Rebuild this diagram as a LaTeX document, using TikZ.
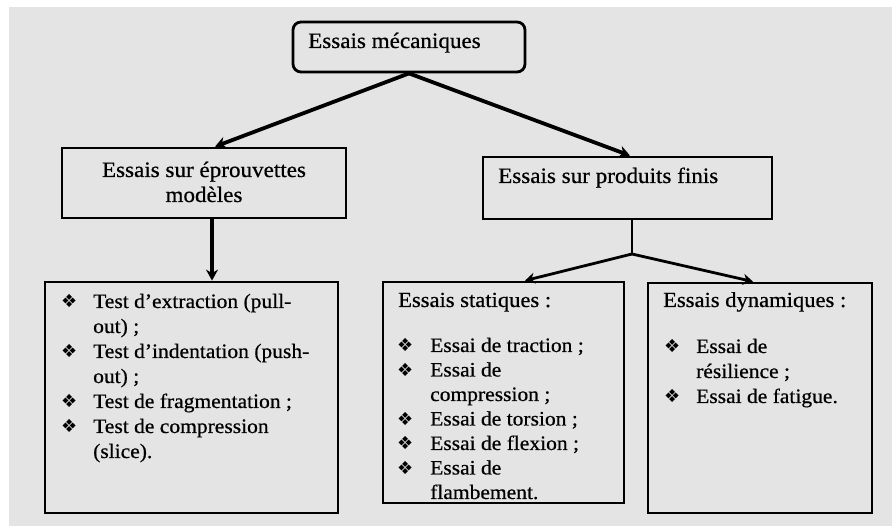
\documentclass[tikz,border=0pt]{standalone}
\usepackage{fontspec}
\setmainfont{Liberation Serif}[FakeStretch=1.05,FakeBold=0.6]
\newfontfamily\dingfont{DejaVu Sans}
\usetikzlibrary{arrows.meta}
\definecolor{bggray}{RGB}{228,228,228}
\begin{document}
\begin{tikzpicture}[x=1pt,y=-1pt,
  frame/.style={draw=black, line width=2.8pt, inner sep=0pt},
  hdA/.style={font=\fontsize{22}{25}\selectfont, inner sep=0pt, anchor=base west},
  hdB/.style={font=\fontsize{21.5}{25}\selectfont, inner sep=0pt, anchor=base west},
  li/.style={font=\fontsize{20.5}{25}\selectfont, inner sep=0pt, anchor=base west},
  bu/.style={font=\dingfont\fontsize{18}{18}\selectfont, inner sep=0pt, anchor=base west},
  conn/.style={line width=3.8pt, -{Stealth[length=11pt,width=12pt]}},
  conntwo/.style={line width=2.8pt, -{Stealth[length=10pt,width=11pt]}}]
\useasboundingbox (0,0) rectangle (892,526);
\fill[bggray] (9,7) rectangle (892,526);

% boxes
\node[frame, rounded corners=8pt, minimum width=232pt, minimum height=50pt] (top) at (409,47) {};
\node[frame, minimum width=284pt, minimum height=70pt] (lbox) at (204,183) {};
\node[frame, minimum width=289pt, minimum height=62pt] (rbox) at (627.5,188) {};
\node[frame, minimum width=293pt, minimum height=231pt] (bl) at (191.5,397.5) {};
\node[frame, minimum width=241pt, minimum height=221pt] (bm) at (503.5,392.5) {};
\node[frame, minimum width=224pt, minimum height=230pt] (br) at (760,398) {};

% box texts
\node[hdA] (ttop) at (308,48) {Essais mécaniques};
\node[hdA, anchor=base] (tl1) at (204,177) {Essais sur éprouvettes};
\node[hdA, anchor=base] (tl2) at (204,202) {modèles};
\node[hdA] (tr) at (498,183) {Essais sur produits finis};

% bottom-left list
\node[bu] (b1) at (61,308) {\char"2756};
\node[li] (l1) at (93,308) {Test d’extraction (pull-};
\node[li] (l2) at (93,333) {out) ;};
\node[bu] (b2) at (61,358) {\char"2756};
\node[li] (l3) at (93,358) {Test d’indentation (push-};
\node[li] (l4) at (93,383) {out) ;};
\node[bu] (b3) at (61,408) {\char"2756};
\node[li] (l5) at (93,408) {Test de fragmentation ;};
\node[bu] (b4) at (61,433) {\char"2756};
\node[li] (l6) at (93,433) {Test de compression};
\node[li] (l7) at (93,458) {(slice).};

% bottom-middle
\node[hdB] (hm) at (398,307) {Essais statiques :};
\node[bu] (m1b) at (397,352) {\char"2756};
\node[li] (m1) at (430,352) {Essai de traction ;};
\node[bu] (m2b) at (397,376.5) {\char"2756};
\node[li] (m2) at (430,376.5) {Essai de};
\node[li] (m3) at (430,401) {compression ;};
\node[bu] (m4b) at (397,425.5) {\char"2756};
\node[li] (m4) at (430,425.5) {Essai de torsion ;};
\node[bu] (m5b) at (397,450) {\char"2756};
\node[li] (m5) at (430,450) {Essai de flexion ;};
\node[bu] (m6b) at (397,474.5) {\char"2756};
\node[li] (m6) at (430,474.5) {Essai de};
\node[li] (m7) at (430,499) {flambement.};

% bottom-right
\node[hdB] (hr) at (663,307) {Essais dynamiques :};
\node[bu] (r1b) at (664,353) {\char"2756};
\node[li] (r1) at (696,353) {Essai de};
\node[li] (r2) at (696,378) {résilience ;};
\node[bu] (r3b) at (664,403) {\char"2756};
\node[li] (r3) at (696,403) {Essai de fatigue.};

% connectors
\draw[conn] (top.south) -- ([xshift=11pt]lbox.north);
\draw[conn] (top.south) -- ([xshift=2.5pt]rbox.north);
\draw[conn] ([xshift=8pt]lbox.south) -- ([xshift=20.5pt]bl.north);
\coordinate (jn) at (632,254);
\draw[line width=2.8pt] ([xshift=4.5pt]rbox.south) -- (jn);
\draw[conntwo] (jn) -- ([xshift=21.5pt]bm.north);
\draw[conntwo] (jn) -- ([xshift=-7pt]br.north);
\end{tikzpicture}
\end{document}
